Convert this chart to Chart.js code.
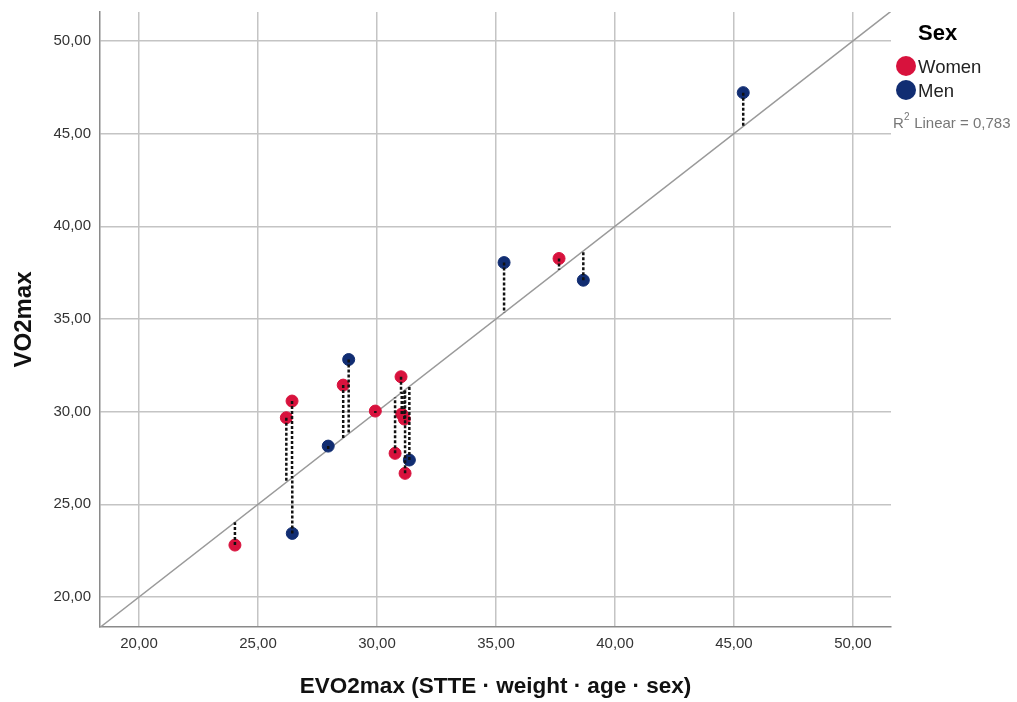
<!DOCTYPE html>
<html><head><meta charset="utf-8">
<script src="https://cdn.jsdelivr.net/npm/chart.js@4/dist/chart.umd.min.js"></script>
<style>html,body{margin:0;padding:0;background:#fff;}#wrap{position:relative;width:1017px;height:702px;}</style>
</head><body><div id="wrap"><canvas id="c" width="1017" height="702"></canvas></div>
<script>
const womenX = [24.03, 26.19, 26.43, 28.58, 29.93, 31.01, 30.76, 31.04, 31.15, 31.18, 37.65];
const womenY = [22.80, 29.67, 30.57, 31.43, 30.03, 31.88, 27.75, 29.87, 29.60, 26.67, 38.26];
const menX = [26.44, 27.95, 28.81, 31.36, 35.34, 38.67, 45.39];
const menY = [23.43, 28.14, 32.81, 27.39, 38.04, 37.09, 47.21];
const xTicks = [20, 25, 30, 35, 40, 45, 50];
const yTicks = [20, 25, 30, 35, 40, 45, 50];
const xRange = [18.36, 51.6];
const yRange = [18.38, 51.56];
const legendTitle = 'Sex';
const seriesNames = ['Women', 'Men'];
const r2Label = '0,783';

const RED = '#d8123d', BLUE = '#112d72';
const FONT = '"Liberation Sans", Arial, sans-serif';

function pts(xs, ys){ return xs.map((x,i)=>({x, y: ys[i]})); }
function resid(xs, ys){
  const out = [];
  xs.forEach((x,i)=>{ out.push({x, y: ys[i]}); out.push({x, y: x}); out.push({x, y: null}); });
  return out;
}
const fmt = v => v.toFixed(2).replace('.', ',');

const legendPlugin = {
  id: 'legendPlugin',
  afterDraw(chart){
    const ctx = chart.ctx;
    ctx.save();
    ctx.fillStyle = '#000';
    ctx.font = 'bold 22px ' + FONT;
    ctx.textBaseline = 'middle';
    ctx.textAlign = 'left';
    ctx.fillText(legendTitle, 918, 34);
    const cols = [RED, BLUE];
    const ys = [66, 90];
    seriesNames.forEach((n,i)=>{
      ctx.beginPath(); ctx.arc(906, ys[i], 10, 0, Math.PI*2); ctx.fillStyle = cols[i]; ctx.fill();
      ctx.fillStyle = '#222'; ctx.font = '18.5px ' + FONT;
      ctx.fillText(n, 918, ys[i] + 2);
    });
    ctx.fillStyle = '#777';
    ctx.font = '15px ' + FONT;
    ctx.fillText('R', 893, 124);
    ctx.font = '10px ' + FONT;
    ctx.fillText('2', 904, 117);
    ctx.font = '15px ' + FONT;
    ctx.fillText(' Linear = ' + r2Label, 910, 124);
    ctx.restore();
  }
};

new Chart(document.getElementById('c'), {
  type: 'scatter',
  data: {
    datasets: [
      { type: 'line', label: 'resid', data: resid(womenX.concat(menX), womenY.concat(menY)),
        borderColor: '#111', borderWidth: 2.5, borderDash: [3, 2], pointRadius: 0, spanGaps: false, order: 0, fill: false },
      { label: seriesNames[0], data: pts(womenX, womenY), backgroundColor: RED, borderColor: RED, pointRadius: 6, order: 2 },
      { label: seriesNames[1], data: pts(menX, menY), backgroundColor: BLUE, borderColor: BLUE, pointRadius: 6, order: 2 },
      { type: 'line', label: 'fit', data: [{x: xRange[0], y: xRange[0]}, {x: xRange[1], y: xRange[1]}],
        borderColor: '#9a9a9a', borderWidth: 1.5, pointRadius: 0, order: 3, fill: false }
    ]
  },
  options: {
    responsive: false, animation: false,
    layout: { padding: { top: 12, right: 126, left: 0, bottom: 0 } },
    plugins: { legend: { display: false }, tooltip: { enabled: false } },
    scales: {
      x: {
        type: 'linear', min: xRange[0], max: xRange[1],
        afterBuildTicks: s => { s.ticks = xTicks.map(v => ({value: v})); },
        afterFit: s => { s.height = 75; s.paddingLeft = 0; s.paddingRight = 0; },
        grid: { color: '#c4c4c4', lineWidth: 1.5, drawTicks: false },
        border: { color: '#8a8a8a', width: 1.5 },
        ticks: { callback: v => fmt(v), color: '#333', font: { family: FONT, size: 15 }, padding: 8, maxRotation: 0 },
        title: { display: true, text: 'EVO2max (STTE · weight · age · sex)', color: '#111',
          font: { family: FONT, size: 22.5, weight: 'bold' }, padding: { top: 0, bottom: 1.5 } }
      },
      y: {
        type: 'linear', min: yRange[0], max: yRange[1],
        afterBuildTicks: s => { s.ticks = yTicks.map(v => ({value: v})); },
        afterFit: s => { s.width = 100; s.paddingTop = 0; s.paddingBottom = 0; },
        grid: { color: '#c4c4c4', lineWidth: 1.5, drawTicks: false },
        border: { color: '#8a8a8a', width: 1.5 },
        ticks: { callback: v => fmt(v), color: '#333', font: { family: FONT, size: 15 }, padding: 9 },
        title: { display: true, text: 'VO2max', color: '#111',
          font: { family: FONT, size: 24, weight: 'bold' }, padding: { top: 10, bottom: 0 } }
      }
    }
  },
  plugins: [legendPlugin]
});
</script></body></html>
